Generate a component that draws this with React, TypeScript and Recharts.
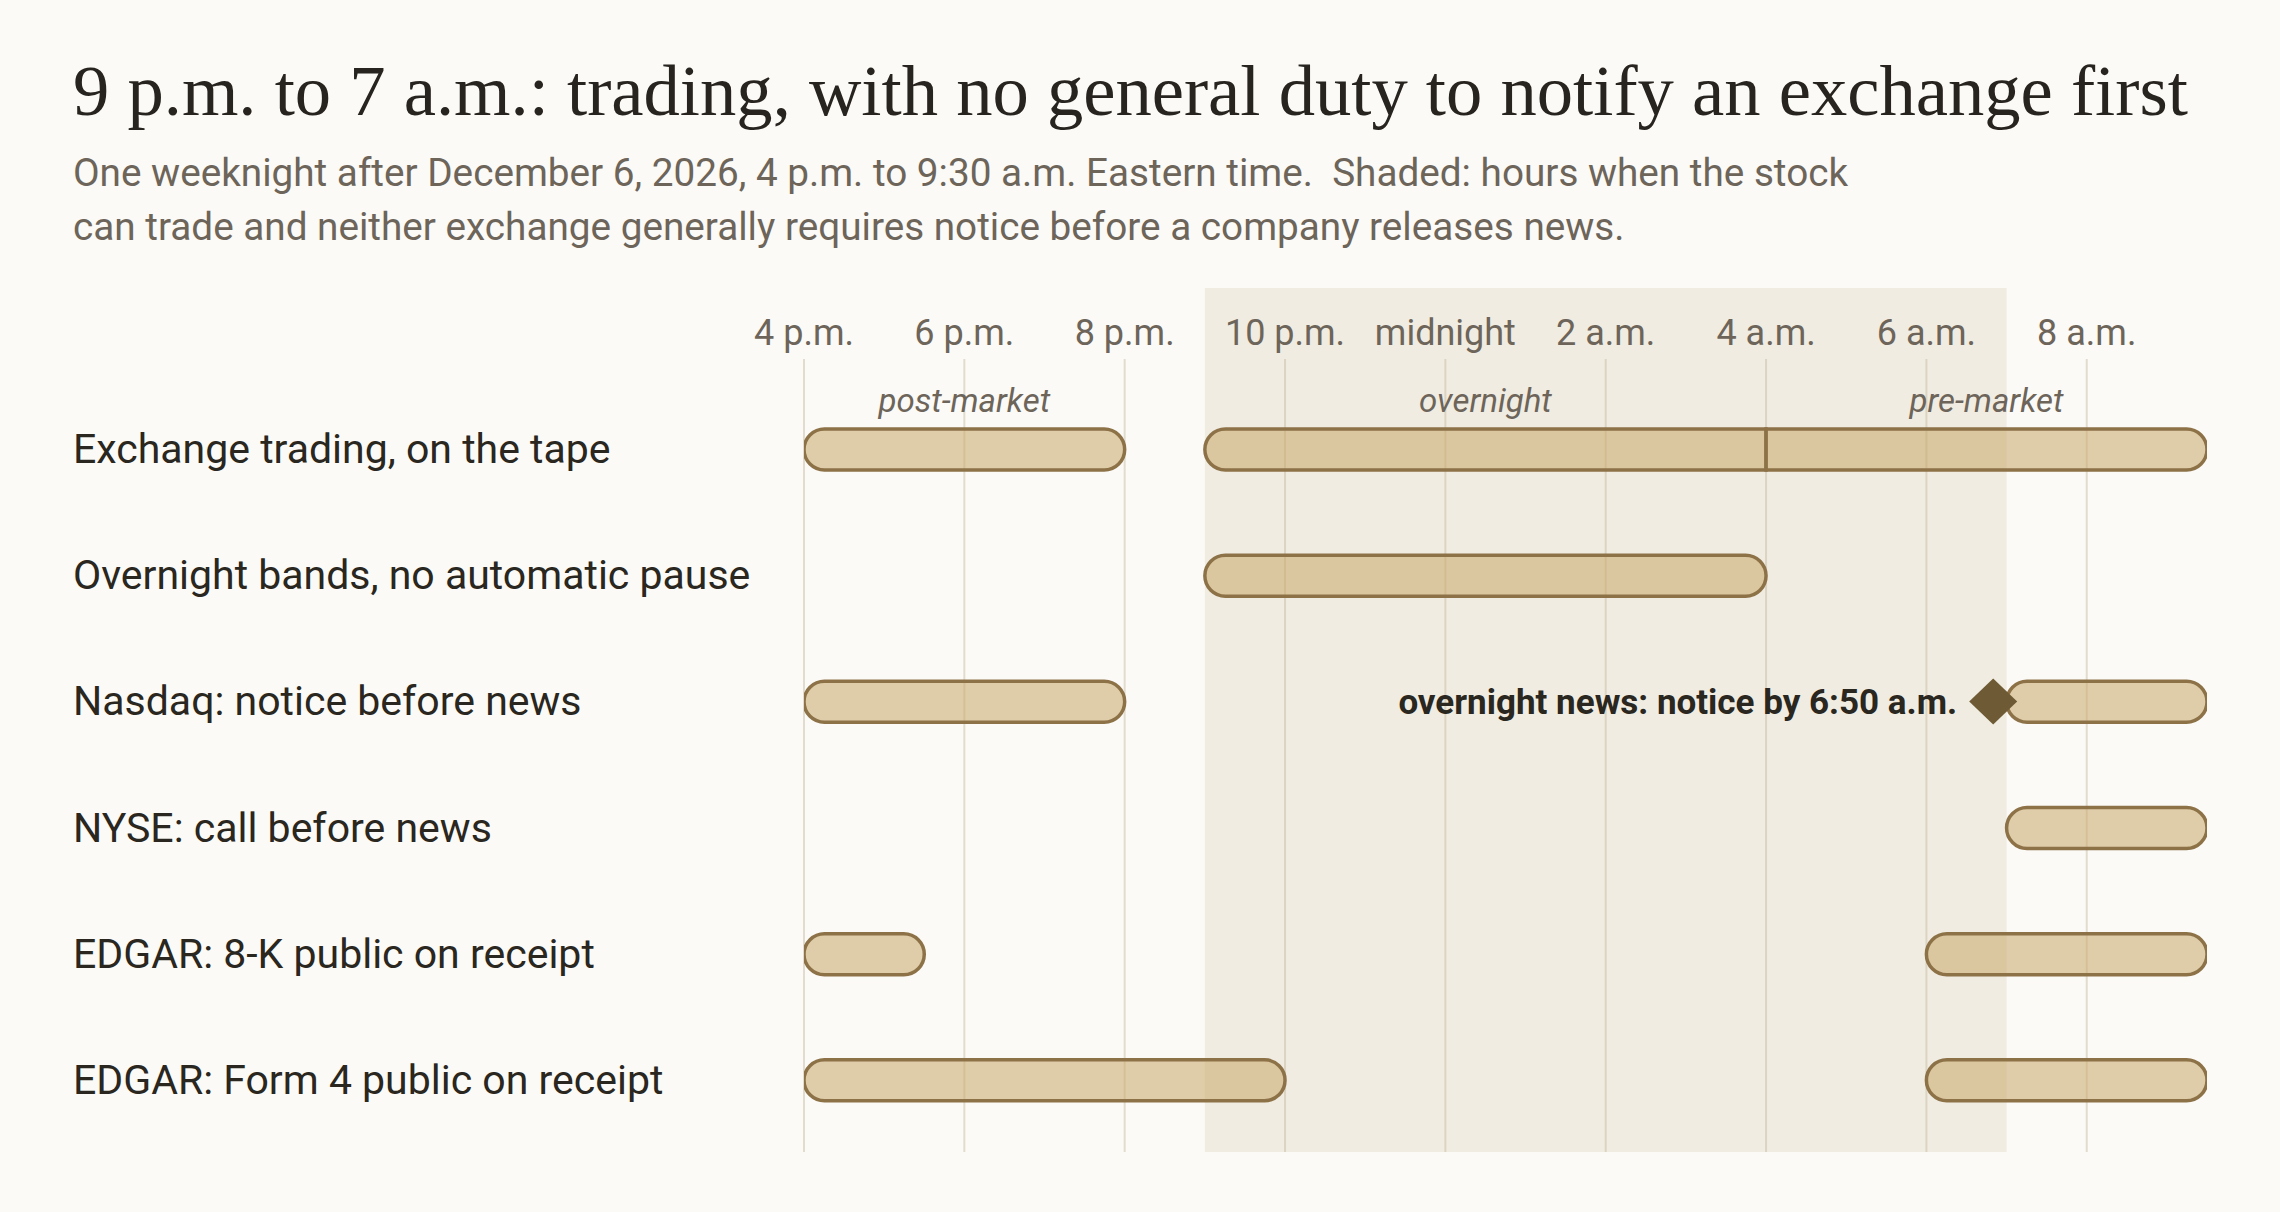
import React from "react";
import {
  ComposedChart,
  Bar,
  XAxis,
  YAxis,
  CartesianGrid,
  ReferenceArea,
  ReferenceDot,
} from "recharts";

// hours on a 16..33.5 clock (24 = midnight, 33.5 = 9:30 a.m. next day)
const rowLabels = [
  "Exchange trading, on the tape",
  "Overnight bands, no automatic pause",
  "Nasdaq: notice before news",
  "NYSE: call before news",
  "EDGAR: 8-K public on receipt",
  "EDGAR: Form 4 public on receipt",
];
const firstSpan = [[16, 20], null, [16, 20], null, [16, 17.5], [16, 22]];
const secondSpan = [[21, 28], [21, 28], [31, 33.5], [31, 33.5], [30, 33.5], [30, 33.5]];
const thirdSpan = [[28, 33.5], null, null, null, null, null];

const tickHours = [16, 18, 20, 22, 24, 26, 28, 30, 32];
const tickLabels = ["4 p.m.", "6 p.m.", "8 p.m.", "10 p.m.", "midnight", "2 a.m.", "4 a.m.", "6 a.m.", "8 a.m."];

const sessionNames = ["post-market", "overnight", "pre-market"];
const sessionStart = [16, 21, 28];
const sessionEnd = [20, 28, 33.5];

const shadedHours = [21, 31];

const markerRow = "Nasdaq: notice before news";
const markerHour = 30.833;
const markerText = "overnight news: notice by 6:50 a.m.";

const data = rowLabels.map((name, i) => ({
  name,
  a: firstSpan[i],
  b: secondSpan[i],
  c: thirdSpan[i],
}));

const BG = "#fbfaf6";
const INK = "#2a2620";
const MUTED = "#6d645a";
const BAR_H = 41;
const PAD_TOP = 98;
const PAD_BOTTOM = 9;
const SANS = "Roboto, 'Liberation Sans', sans-serif";

function pillPath(x: number, y: number, w: number, h: number, roundL: boolean, roundR: boolean) {
  const r = h / 2;
  let d = roundL
    ? `M${x + r},${y + h} A${r},${r} 0 0 1 ${x + r},${y}`
    : `M${x},${y + h} L${x},${y}`;
  d += roundR
    ? ` L${x + w - r},${y} A${r},${r} 0 0 1 ${x + w - r},${y + h}`
    : ` L${x + w},${y} L${x + w},${y + h}`;
  return d + " Z";
}

const makeShape = (key: "a" | "b" | "c") => (props: any) => {
  const { x, y, width, height, payload } = props;
  const span = payload?.[key];
  if (!span || !(width > 0)) return <g />;
  const others = ["a", "b", "c"].filter((k) => k !== key).map((k) => payload[k]).filter(Boolean);
  const roundL = !others.some((o: number[]) => o[1] === span[0]);
  const roundR = !others.some((o: number[]) => o[0] === span[1]);
  return (
    <path
      d={pillPath(x, y, width, height, roundL, roundR)}
      fill="#c9a86a"
      fillOpacity={0.55}
      stroke="#8d7248"
      strokeWidth={3.5}
    />
  );
};

const TimeTick = (props: any) => {
  const { x, y, payload } = props;
  const i = tickHours.indexOf(payload.value);
  if (i < 0) return <g />;
  return (
    <text x={x} y={y + 53} textAnchor="middle" dominantBaseline="central" fill={MUTED} fontSize={36} fontFamily={SANS}>
      {tickLabels[i]}
    </text>
  );
};

const RowTick = (props: any) => {
  const { y, payload } = props;
  return (
    <text x={73} y={y} textAnchor="start" dominantBaseline="central" fill={INK} fontSize={41} fontFamily={SANS}>
      {payload.value}
    </text>
  );
};

const sessionLabel = (text: string) => (props: any) => {
  const vb = props.viewBox || {};
  return (
    <text
      x={vb.x + vb.width / 2}
      y={vb.y + 14}
      textAnchor="middle"
      dominantBaseline="central"
      fill={MUTED}
      fontSize={33}
      fontStyle="italic"
      fontFamily={SANS}
    >
      {text}
    </text>
  );
};

// the category padding trims the area; stretch it back to the full plot
const ShadeRect = (props: any) => {
  const { x, y, width, height } = props;
  return (
    <rect
      x={x}
      y={y - PAD_TOP}
      width={width}
      height={height + PAD_TOP + PAD_BOTTOM}
      fill="#c8b996"
      fillOpacity={0.22}
    />
  );
};

// grid starts below the tick labels
const GridLine = (p: any) => (
  <line key={p.key} x1={p.x1} x2={p.x2} y1={p.y1 + 71} y2={p.y2} stroke="#e2dccf" strokeWidth={2} />
);

const Diamond = (props: any) => {
  const { cx, cy } = props;
  return <polygon points={`${cx},${cy - 23} ${cx + 24},${cy} ${cx},${cy + 23} ${cx - 24},${cy}`} fill="#6e5a34" />;
};

export default function App() {
  return (
    <div style={{ position: "relative", width: 2280, height: 1212, background: BG, overflow: "hidden" }}>
      <style>{`body{margin:0;background:${BG}}`}</style>
      <div
        style={{
          position: "absolute",
          left: 73,
          top: 55,
          fontFamily: "'Liberation Serif', serif",
          fontSize: 72.6,
          lineHeight: "72px",
          color: "#27231e",
          whiteSpace: "nowrap",
        }}
      >
        9 p.m. to 7 a.m.: trading, with no general duty to notify an exchange first
      </div>
      <div
        style={{
          position: "absolute",
          left: 73,
          top: 146,
          fontFamily: SANS,
          fontSize: 38.7,
          lineHeight: "54px",
          color: MUTED,
          whiteSpace: "pre",
        }}
      >
        {"One weeknight after December 6, 2026, 4 p.m. to 9:30 a.m. Eastern time.  Shaded: hours when the stock\ncan trade and neither exchange generally requires notice before a company releases news."}
      </div>
      <div style={{ position: "absolute", left: 0, top: 0 }}>
        <ComposedChart
          width={2280}
          height={1212}
          data={data}
          layout="vertical"
          margin={{ top: 258, right: 73, bottom: 60, left: 0 }}
          barSize={BAR_H}
          barGap={-BAR_H}
        >
          <ReferenceArea x1={shadedHours[0]} x2={shadedHours[1]} shape={<ShadeRect />} />
          <CartesianGrid horizontal={false} vertical={GridLine} syncWithTicks />
          <XAxis
            type="number"
            orientation="top"
            domain={[16, 33.5]}
            ticks={tickHours}
            interval={0}
            height={30}
            axisLine={false}
            tickLine={false}
            tick={<TimeTick />}
            allowDataOverflow
          />
          <YAxis
            type="category"
            dataKey="name"
            width={804}
            axisLine={false}
            tickLine={false}
            tick={<RowTick />}
            padding={{ top: PAD_TOP, bottom: PAD_BOTTOM }}
          />
          {sessionNames.map((s, i) => (
            <ReferenceArea
              key={s}
              x1={sessionStart[i]}
              x2={sessionEnd[i]}
              fill="none"
              fillOpacity={0}
              stroke="none"
              label={sessionLabel(s)}
            />
          ))}
          <Bar dataKey="a" isAnimationActive={false} shape={makeShape("a")} />
          <Bar dataKey="b" isAnimationActive={false} shape={makeShape("b")} />
          <Bar dataKey="c" isAnimationActive={false} shape={makeShape("c")} />
          <ReferenceDot
            x={markerHour}
            y={markerRow}
            r={24}
            shape={<Diamond />}
            label={{
              value: markerText,
              position: "left",
              offset: 12,
              fill: INK,
              fontSize: 35,
              fontWeight: 700,
              fontFamily: SANS,
            }}
          />
        </ComposedChart>
      </div>
    </div>
  );
}
